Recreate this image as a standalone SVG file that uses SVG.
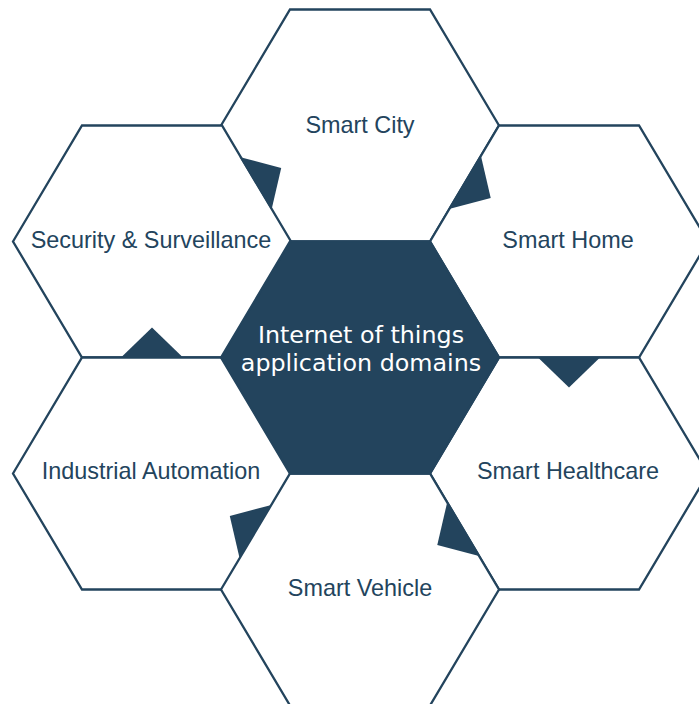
<svg xmlns="http://www.w3.org/2000/svg" xmlns:xlink="http://www.w3.org/1999/xlink" width="699" height="704" viewBox="0 0 699 704">
  <style>
    .hex { fill: #ffffff; stroke: #23445d; stroke-width: 2.3; stroke-linejoin: miter; }
    .hexc { fill: #23445d; stroke: #23445d; stroke-width: 2.3; }
    .lbl { font-family: "Liberation Sans", Arial, sans-serif; font-size: 23.4px; fill: #23445d; text-anchor: middle; }
    .clbl { font-family: "DejaVu Sans", Verdana, sans-serif; font-size: 23.8px; fill: #ffffff; text-anchor: middle; }
    .flag { fill: #23445d; stroke: none; }
  </style>
  <defs>
    <polygon id="hexshape" points="-139,0 -70,-116 70,-116 139,0 70,116 -70,116"/>
    <polygon id="tri" points="-31,0 31,0 0,-30"/>
  </defs>
  <rect width="699" height="704" fill="#ffffff"/>

  <g id="node-smart-city">
    <use xlink:href="#hexshape" class="hex" transform="translate(360,125.5)"/>
    <text class="lbl" x="360" y="133">Smart City</text>
  </g>
  <g id="node-security">
    <use xlink:href="#hexshape" class="hex" transform="translate(152,241.5)"/>
    <text class="lbl" x="151" y="248">Security &amp; Surveillance</text>
  </g>
  <g id="node-smart-home">
    <use xlink:href="#hexshape" class="hex" transform="translate(569,241.5)"/>
    <text class="lbl" x="568" y="248">Smart Home</text>
  </g>
  <g id="node-industrial">
    <use xlink:href="#hexshape" class="hex" transform="translate(152,473.5)"/>
    <text class="lbl" x="151" y="479">Industrial Automation</text>
  </g>
  <g id="node-healthcare">
    <use xlink:href="#hexshape" class="hex" transform="translate(569,473.5)"/>
    <text class="lbl" x="568" y="479">Smart Healthcare</text>
  </g>
  <g id="node-vehicle">
    <use xlink:href="#hexshape" class="hex" transform="translate(360,589.5)"/>
    <text class="lbl" x="360" y="596">Smart Vehicle</text>
  </g>
  <g id="node-center">
    <use xlink:href="#hexshape" class="hexc" transform="translate(360,357.5)"/>
    <text class="clbl" x="361" y="343">Internet of things</text>
    <text class="clbl" x="361" y="371">application domains</text>
  </g>

  <g id="connectors">
    <use xlink:href="#tri" class="flag" transform="translate(255.5,183.5) rotate(59)"/>
    <use xlink:href="#tri" class="flag" transform="translate(465,182.5) rotate(121)"/>
    <use xlink:href="#tri" class="flag" transform="translate(569,357.5) rotate(180)"/>
    <use xlink:href="#tri" class="flag" transform="translate(463,529.5) rotate(-121)"/>
    <use xlink:href="#tri" class="flag" transform="translate(255.5,531.5) rotate(-59)"/>
    <use xlink:href="#tri" class="flag" transform="translate(152,357.5)"/>
  </g>
</svg>
